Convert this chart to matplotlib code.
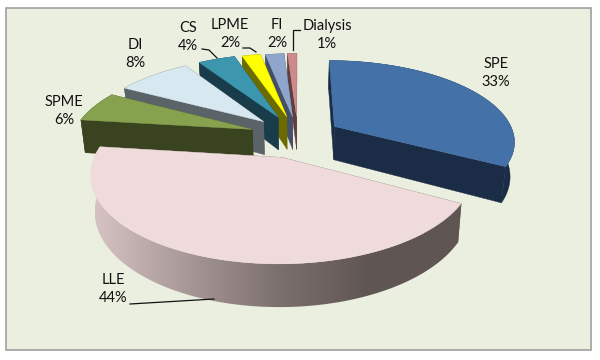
# 3D style exploded pie of extraction methods, drawn with projected wedges
import numpy as np
import matplotlib
matplotlib.use("Agg")
import matplotlib.pyplot as plt
from matplotlib.colors import LinearSegmentedColormap
from matplotlib.patches import Polygon, Rectangle

methods = ["SPE", "LLE", "SPME", "DI", "CS", "LPME", "FI", "Dialysis"]
shares = [33, 44, 6, 8, 4, 2, 2, 1]

top_colors = ["#4472A8", "#EFDBDB", "#87A24E", "#D8E8F0", "#3C96AE", "#FFFF00", "#8FA5CC", "#CC8A8A"]
side_colors = ["#1B2D46", "#5F5553", "#3A431F", "#5A6468", "#193C4A", "#6B6B00", "#454F66", "#5E3E40"]

# how far each slice is pulled out, in pie radii
explode = [0.24, 0.27, 0.27, 0.27, 0.27, 0.26, 0.25, 0.25]

# projection of the unit disc
cx, cy = 298, 136
rx, ry = 180, 80
persp = 0.17
depth = 34

plt.rcParams["font.family"] = "Lato"

fig = plt.figure(figsize=(6, 3.6), dpi=100, facecolor="white")
ax = fig.add_axes([0, 0, 1, 1])

ax.add_patch(Rectangle((6, 8), 585, 342, facecolor="#EBEFDF", edgecolor="#A0A0A0", linewidth=1.2))


def project(u, v, low=False):
    w = 1 + persp * v
    if low:
        # bottom face sits a bit closer to the centre and lower down
        return cx + 0.98 * rx * u / w, cy - ry * v / w + depth / w
    return cx + rx * u / w, cy - ry * v / w


rim_cmap = LinearSegmentedColormap.from_list("rim", ["#D6C2C2", "#A89898", "#7C706E", "#5F5553", "#5F5553"])

# angles clockwise from the top, as in the original
edges = np.cumsum([0] + shares) / sum(shares) * 2 * np.pi

# back slices first, the big front ones last
order = [7, 6, 5, 4, 3, 2, 0, 1]
for n, i in enumerate(order):
    a0, a1 = edges[i], edges[i + 1]
    mid = (a0 + a1) / 2
    ox, oy = explode[i] * np.sin(mid), explode[i] * np.cos(mid)
    t = np.linspace(a0, a1, max(int(shares[i] * 4), 12))
    u = ox + np.sin(t)
    v = oy + np.cos(t)

    x_top, y_top = project(u, v)
    x_low, y_low = project(u, v, low=True)
    ax_top, ay_top = project(ox, oy)
    ax_low, ay_low = project(ox, oy, low=True)

    # the two cut faces
    for k in [0, -1]:
        ax.fill([ax_top, x_top[k], x_low[k], ax_low], [ay_top, y_top[k], y_low[k], ay_low],
                color=side_colors[i], linewidth=0.3, zorder=2 + n * 3)

    # outer wall, LLE gets a left to right gradient clipped to the wall
    wall = np.c_[np.r_[x_top, x_low[::-1]], np.r_[y_top, y_low[::-1]]]
    if methods[i] == "LLE":
        patch = Polygon(wall, closed=True, facecolor="none", edgecolor="none", transform=ax.transData)
        ax.add_patch(patch)
        grad = np.linspace(0, 1, 256).reshape(1, -1)
        im = ax.imshow(grad, cmap=rim_cmap, extent=[x_low.min(), x_top.max(), 360, 0], aspect="auto",
                       zorder=3 + n * 3)
        im.set_clip_path(patch)
    else:
        ax.fill(wall[:, 0], wall[:, 1], color=side_colors[i], linewidth=0.3, zorder=3 + n * 3)

    ax.fill(np.r_[ax_top, x_top], np.r_[ay_top, y_top], color=top_colors[i], linewidth=0.3,
            zorder=4 + n * 3)

ax.set_xlim(0, 600)
ax.set_ylim(360, 0)
ax.axis("off")

# labels sit where the original put them
label_x = [496, 113, 64, 135, 188, 230, 277, 327]
label_y = [73, 289, 111, 54, 37, 34, 34, 35]
for name, share, lx, ly in zip(methods, shares, label_x, label_y):
    ax.text(lx, ly, f"{name}\n{share}%", ha="center", va="center", fontsize=10.5,
            color="#111111", linespacing=1.3, zorder=50)

# leader lines
leaders = [
    ([130, 214], [304, 299]),
    ([202, 209, 217], [49, 50, 58]),
    ([243, 250, 256], [48, 48, 52]),
    ([293, 293, 300], [50, 30, 30]),
]
for lx, ly in leaders:
    ax.plot(lx, ly, color="#111111", linewidth=0.9, zorder=49)

fig.savefig("out.png", dpi=100, facecolor="white")
